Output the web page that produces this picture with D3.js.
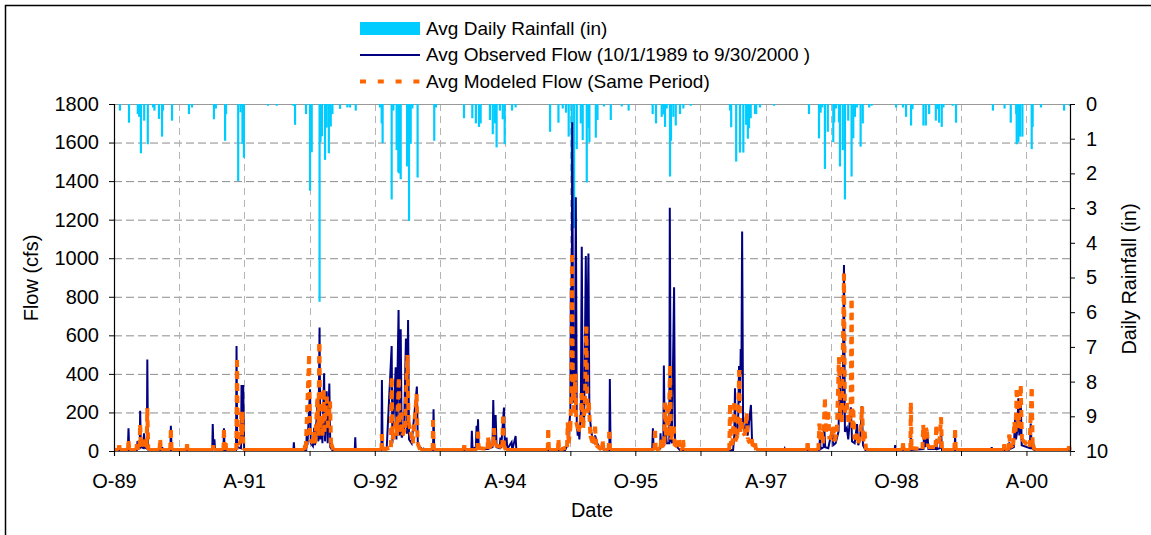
<!DOCTYPE html>
<html>
<head>
<meta charset="utf-8">
<script src="https://cdn.jsdelivr.net/npm/d3@7"></script>
<style>
  html, body { margin: 0; padding: 0; background: #fff; }
  svg { display: block; font-family: "Liberation Sans", Arial, sans-serif; }
</style>
</head>
<body>
<svg id="chart" width="1151" height="535"></svg>
<script>
// Daily rainfall (in) on wet days
const rainfall = [
  ["1989-10-26",0.19],["1989-12-03",0.54],["1990-01-09",0.29],["1990-01-15",0.37],["1990-01-22",1.42],
  ["1990-02-05",0.48],["1990-02-20",1.16],["1990-03-14",0.10],["1990-03-20",0.19],["1990-04-08",0.43],
  ["1990-04-21",0.94],["1990-04-25",0.19],["1990-06-02",0.48],["1990-08-12",0.29],["1990-08-25",0.10],
  ["1990-11-25",0.44],["1990-12-03",0.13],["1991-01-11",1.06],["1991-01-15",0.29],["1991-03-07",2.22],
  ["1991-03-17",0.24],["1991-03-25",1.15],["1991-03-31",1.55],["1991-07-10",0.05],["1991-08-16",0.05],
  ["1991-10-25",0.05],["1991-11-01",0.60],["1991-12-17",0.29],["1992-01-03",2.50],["1992-01-10",1.39],
  ["1992-02-12",5.70],["1992-02-16",1.10],["1992-02-22",0.93],["1992-03-06",1.61],["1992-03-13",0.68],
  ["1992-03-22",1.42],["1992-03-30",0.65],["1992-04-06",0.29],["1992-05-08",0.14],["1992-06-08",0.10],
  ["1992-06-19",0.10],["1992-07-13",0.19],["1992-10-23",0.10],["1992-10-30",0.56],["1992-11-03",1.13],
  ["1992-12-11",2.75],["1992-12-18",0.19],["1993-01-01",1.33],["1993-01-08",1.97],["1993-01-12",2.00],
  ["1993-01-18",2.17],["1993-02-14",1.80],["1993-02-22",3.37],["1993-03-01",1.15],["1993-03-08",0.13],
  ["1993-03-30",2.12],["1993-06-08",1.06],["1993-06-15",0.10],["1993-10-11",0.41],["1993-11-15",0.41],
  ["1993-11-30",0.56],["1993-12-13",0.66],["1993-12-20",0.56],["1994-01-28",0.46],["1994-02-09",0.87],
  ["1994-02-18",0.56],["1994-02-25",1.25],["1994-03-11",0.19],["1994-03-23",0.44],["1994-03-31",1.16],
  ["1994-05-01",0.19],["1994-05-16",0.10],["1994-10-08",0.80],["1994-11-12",0.54],["1994-11-30",0.13],
  ["1994-12-14",0.25],["1994-12-25",0.94],["1995-01-07",2.09],["1995-01-17",3.58],["1995-01-28",1.30],
  ["1995-02-14",0.56],["1995-02-22",1.04],["1995-03-11",2.26],["1995-03-18",0.70],["1995-03-22",1.10],
  ["1995-04-18",0.97],["1995-04-25",0.46],["1995-05-22",0.07],["1995-06-20",0.46],["1995-08-05",0.07],
  ["1995-09-03",0.19],["1995-12-13",0.29],["1995-12-27",0.56],["1996-01-20",0.37],["1996-01-27",0.30],
  ["1996-02-03",0.66],["1996-02-10",0.13],["1996-02-24",2.09],["1996-02-28",1.06],["1996-03-09",0.37],
  ["1996-03-19",0.62],["1996-04-06",0.29],["1996-04-20",0.13],["1996-05-21",0.05],["1996-11-02",0.19],
  ["1996-11-07",0.67],["1996-11-28",1.66],["1996-12-14",1.40],["1996-12-28",1.40],["1997-01-09",0.60],
  ["1997-01-16",1.00],["1997-01-21",0.70],["1997-01-28",0.41],["1997-02-15",0.29],["1997-02-20",0.29],
  ["1997-03-08",0.10],["1997-05-06",0.05],["1997-09-30",0.29],["1997-11-11",0.99],["1997-11-18",0.25],
  ["1997-11-25",0.10],["1997-12-06",1.87],["1997-12-18",0.80],["1998-01-10",1.10],["1998-01-14",0.53],
  ["1998-01-22",0.13],["1998-02-03",0.53],["1998-02-07",1.80],["1998-02-19",1.33],["1998-02-28",2.75],
  ["1998-03-14",0.48],["1998-03-28",2.09],["1998-04-04",0.99],["1998-04-11",0.37],["1998-04-19",0.10],
  ["1998-05-05",1.23],["1998-05-14",0.56],["1998-06-10",0.10],["1998-06-20",0.05],["1998-10-01",0.10],
  ["1998-10-30",0.10],["1998-11-12",0.37],["1998-12-03",0.62],["1998-12-09",0.15],["1999-01-24",0.62],
  ["1999-02-03",0.62],["1999-02-17",0.29],["1999-03-17",0.48],["1999-03-24",0.15],["1999-03-31",0.54],
  ["1999-04-11",0.66],["1999-04-18",0.10],["1999-05-27",0.05],["1999-06-10",0.54],["1999-11-12",0.19],
  ["1999-12-31",0.13],["2000-01-26",0.54],["2000-02-18",0.29],["2000-02-20",1.16],["2000-02-27",1.10],
  ["2000-03-05",0.94],["2000-03-15",0.94],["2000-04-23",1.30],["2000-04-27",0.66],["2000-06-01",0.10],
  ["2000-09-06",0.19],["2000-09-30",0.05]
];

// Observed flow (cfs)
const observedFlow = [
  ["1989-10-01",5],["1989-11-28",5],["1989-12-01",118],["1989-12-04",5],
  ["1990-01-05",5],["1990-01-08",52],["1990-01-11",12],["1990-01-17",14],["1990-01-19",209],["1990-01-22",20],
  ["1990-02-02",15],["1990-02-04",92],["1990-02-07",18],["1990-02-16",14],["1990-02-18",475],["1990-02-21",8],
  ["1990-04-20",5],["1990-04-22",20],["1990-04-24",5],["1990-05-26",5],["1990-05-28",131],["1990-05-31",5],
  ["1990-11-18",5],["1990-11-20",140],["1990-11-23",10],["1990-11-27",60],["1990-11-30",5],
  ["1991-01-04",5],["1991-01-06",118],["1991-01-09",5],["1991-02-26",5],["1991-02-28",545],["1991-03-03",20],
  ["1991-03-19",15],["1991-03-21",342],["1991-03-24",60],["1991-03-28",342],["1991-04-01",8],
  ["1991-10-25",5],["1991-10-27",45],["1991-10-29",5],["1991-12-18",5],["1991-12-20",90],["1991-12-23",30],
  ["1992-01-03",320],["1992-01-06",40],["1992-01-15",25],["1992-01-20",120],["1992-01-24",30],["1992-02-04",270],
  ["1992-02-07",50],["1992-02-12",640],["1992-02-15",60],["1992-02-20",150],["1992-02-24",40],["1992-03-02",403],
  ["1992-03-06",50],["1992-03-13",310],["1992-03-17",40],["1992-03-24",350],["1992-03-28",20],["1992-04-05",5],
  ["1992-07-09",5],["1992-07-11",71],["1992-07-13",5],
  ["1992-10-29",5],["1992-10-31",368],["1992-11-03",15],["1992-11-20",10],["1992-12-11",545],["1992-12-14",40],
  ["1992-12-28",434],["1992-12-31",60],["1993-01-09",731],["1993-01-13",80],["1993-01-18",631],["1993-01-22",70],
  ["1993-02-01",100],["1993-02-09",584],["1993-02-13",90],["1993-02-18",679],["1993-02-22",60],["1993-03-05",40],
  ["1993-03-27",334],["1993-03-31",30],["1993-04-20",8],["1993-04-24",12],["1993-04-27",5],
  ["1993-06-03",5],["1993-06-05",216],["1993-06-08",5],
  ["1993-11-11",5],["1993-11-13",105],["1993-11-16",10],["1993-11-30",20],["1993-12-03",131],["1993-12-06",30],
  ["1993-12-09",164],["1993-12-12",10],["1994-01-20",10],["1994-01-25",60],["1994-01-28",15],["1994-02-08",20],
  ["1994-02-11",264],["1994-02-15",30],["1994-02-21",186],["1994-02-25",20],["1994-03-10",15],["1994-03-13",70],
  ["1994-03-16",15],["1994-03-28",225],["1994-04-01",20],["1994-04-08",70],["1994-04-11",10],["1994-04-29",45],
  ["1994-05-02",5],["1994-05-16",78],["1994-05-19",5],
  ["1994-12-10",5],["1994-12-20",30],["1994-12-28",150],["1995-01-01",200],["1995-01-03",847],["1995-01-06",300],
  ["1995-01-09",1705],["1995-01-13",400],["1995-01-17",250],["1995-01-21",600],["1995-01-24",1316],["1995-01-28",150],
  ["1995-02-01",80],["1995-02-04",120],["1995-02-08",60],["1995-02-14",200],["1995-02-18",1060],["1995-02-22",200],
  ["1995-02-28",150],["1995-03-07",1011],["1995-03-11",300],["1995-03-18",1025],["1995-03-22",200],["1995-03-30",100],
  ["1995-04-08",40],["1995-04-15",80],["1995-04-24",40],["1995-05-05",15],["1995-05-20",8],
  ["1995-06-14",5],["1995-06-16",373],["1995-06-19",5],
  ["1995-12-11",5],["1995-12-14",118],["1995-12-17",10],["1996-01-13",10],["1996-01-15",92],["1996-01-18",20],
  ["1996-01-27",30],["1996-01-29",443],["1996-02-02",60],["1996-02-07",100],["1996-02-10",40],["1996-02-21",40],
  ["1996-02-23",1262],["1996-02-27",60],["1996-03-03",40],["1996-03-12",849],["1996-03-16",30],["1996-03-25",20],
  ["1996-04-05",5],
  ["1996-11-15",5],["1996-11-20",80],["1996-11-23",325],["1996-11-26",60],["1996-12-03",100],["1996-12-07",200],
  ["1996-12-10",441],["1996-12-14",250],["1996-12-17",529],["1996-12-20",400],["1996-12-23",1138],["1996-12-27",150],
  ["1997-01-03",100],["1997-01-08",120],["1997-01-11",178],["1997-01-15",80],["1997-01-21",150],["1997-01-29",239],
  ["1997-02-03",40],["1997-02-15",30],["1997-02-25",5],
  ["1997-06-18",5],["1997-06-20",12],["1997-06-22",5],["1997-09-22",5],["1997-09-24",40],["1997-09-27",5],
  ["1997-11-10",5],["1997-11-15",60],["1997-11-18",10],["1997-11-30",20],["1997-12-03",135],["1997-12-07",20],
  ["1997-12-20",15],["1998-01-06",118],["1998-01-10",30],["1998-01-20",40],["1998-02-01",100],["1998-02-07",434],
  ["1998-02-12",150],["1998-02-18",200],["1998-02-24",965],["1998-02-28",100],["1998-03-08",120],["1998-03-14",60],
  ["1998-03-25",227],["1998-03-30",50],["1998-04-10",40],["1998-04-20",140],["1998-04-25",30],["1998-05-03",60],
  ["1998-05-10",232],["1998-05-15",30],["1998-05-25",5],
  ["1998-09-25",5],["1998-09-27",30],["1998-09-29",5],["1998-11-30",5],["1998-12-02",78],["1998-12-05",5],
  ["1999-01-24",10],["1999-01-27",100],["1999-01-31",20],["1999-02-10",85],["1999-02-14",10],["1999-03-17",10],
  ["1999-03-19",60],["1999-03-22",10],["1999-04-05",15],["1999-04-08",105],["1999-04-12",5],
  ["1999-06-04",5],["1999-06-06",75],["1999-06-09",5],["1999-11-05",5],["1999-11-07",20],["1999-11-09",5],
  ["2000-01-17",5],["2000-01-20",45],["2000-01-23",10],["2000-02-08",20],["2000-02-13",164],["2000-02-17",60],
  ["2000-02-22",100],["2000-02-27",273],["2000-03-02",80],["2000-03-08",273],["2000-03-12",30],["2000-04-15",15],
  ["2000-04-19",143],["2000-04-23",15],["2000-05-05",5],["2000-09-30",5]
];

// Modeled flow (cfs)
const modeledFlow = [
  ["1989-10-01",5],["1989-10-20",5],["1989-10-23",30],["1989-10-26",5],["1989-11-29",5],["1989-12-01",52],
  ["1989-12-04",5],["1990-01-03",5],["1990-01-05",35],["1990-01-08",15],["1990-01-16",20],["1990-01-19",135],
  ["1990-01-23",25],["1990-02-04",60],["1990-02-08",20],["1990-02-15",30],["1990-02-18",221],["1990-02-22",5],
  ["1990-04-10",5],["1990-04-13",57],["1990-04-16",5],["1990-05-25",5],["1990-05-28",109],["1990-05-31",5],
  ["1990-08-02",5],["1990-08-04",35],["1990-08-06",5],
  ["1990-11-20",5],["1990-11-22",30],["1990-11-24",5],["1991-01-04",5],["1991-01-06",109],["1991-01-09",20],
  ["1991-01-13",40],["1991-01-16",5],["1991-02-27",5],["1991-03-02",472],["1991-03-06",40],["1991-03-18",40],
  ["1991-03-21",204],["1991-03-23",80],["1991-03-25",200],["1991-03-29",5],
  ["1991-12-11",5],["1991-12-13",30],["1991-12-16",15],["1991-12-30",493],["1992-01-03",60],["1992-01-15",40],
  ["1992-01-20",100],["1992-01-24",40],["1992-02-03",273],["1992-02-07",80],["1992-02-11",555],["1992-02-15",120],
  ["1992-02-20",180],["1992-02-24",80],["1992-02-28",316],["1992-03-03",100],["1992-03-08",200],["1992-03-13",282],
  ["1992-03-18",120],["1992-03-27",256],["1992-03-31",40],["1992-04-10",5],
  ["1992-10-29",5],["1992-10-31",88],["1992-11-03",5],["1992-12-08",20],["1992-12-11",377],["1992-12-15",60],
  ["1992-12-28",150],["1993-01-02",80],["1993-01-10",372],["1993-01-14",100],["1993-01-20",200],["1993-01-26",80],
  ["1993-02-05",120],["1993-02-15",498],["1993-02-20",150],["1993-03-01",100],["1993-03-10",40],["1993-03-26",294],
  ["1993-03-30",40],["1993-04-10",5],["1993-06-01",5],["1993-06-03",161],["1993-06-06",5],
  ["1993-10-10",5],["1993-10-12",30],["1993-10-14",5],["1993-12-06",5],["1993-12-09",100],["1993-12-12",15],
  ["1994-01-18",10],["1994-01-20",70],["1994-01-23",15],["1994-02-11",40],["1994-02-14",118],["1994-02-18",30],
  ["1994-03-21",20],["1994-03-24",178],["1994-03-28",30],["1994-04-05",5],
  ["1994-09-28",5],["1994-09-30",109],["1994-10-03",5],["1994-11-10",5],["1994-11-12",57],["1994-11-15",5],
  ["1994-12-18",20],["1994-12-21",147],["1994-12-25",40],["1995-01-01",120],["1995-01-05",300],["1995-01-08",1016],
  ["1995-01-12",300],["1995-01-17",200],["1995-01-22",400],["1995-01-26",150],["1995-02-04",100],["1995-02-14",150],
  ["1995-02-18",300],["1995-02-24",120],["1995-03-03",250],["1995-03-09",645],["1995-03-14",200],["1995-03-20",250],
  ["1995-03-26",80],["1995-04-05",40],["1995-04-15",126],["1995-04-19",30],["1995-05-14",5],["1995-05-17",50],
  ["1995-05-20",5],["1995-06-11",5],["1995-06-14",99],["1995-06-17",5],
  ["1995-12-20",5],["1995-12-23",105],["1995-12-26",5],["1996-01-15",15],["1996-01-18",60],["1996-01-22",20],
  ["1996-01-31",40],["1996-02-03",250],["1996-02-07",80],["1996-02-14",230],["1996-02-18",80],["1996-02-24",441],
  ["1996-02-28",60],["1996-03-11",126],["1996-03-15",20],["1996-04-02",57],["1996-04-05",5],["1996-04-16",5],
  ["1996-04-19",57],["1996-04-22",5],
  ["1996-10-30",5],["1996-11-02",239],["1996-11-06",40],["1996-11-12",30],["1996-11-20",247],["1996-11-24",50],
  ["1996-12-03",80],["1996-12-11",420],["1996-12-15",100],["1996-12-20",150],["1996-12-28",95],["1997-01-04",80],
  ["1997-01-11",195],["1997-01-16",60],["1997-01-25",40],["1997-02-01",62],["1997-02-06",20],["1997-02-15",40],
  ["1997-02-20",5],
  ["1997-09-22",5],["1997-09-24",40],["1997-09-27",5],
  ["1997-11-08",5],["1997-11-13",142],["1997-11-17",60],["1997-11-22",100],["1997-11-28",40],["1997-12-06",268],
  ["1997-12-10",100],["1997-12-20",202],["1997-12-25",60],["1998-01-03",80],["1998-01-10",126],["1998-01-15",50],
  ["1998-01-25",100],["1998-02-03",486],["1998-02-08",200],["1998-02-15",150],["1998-02-24",920],["1998-02-28",200],
  ["1998-03-08",250],["1998-03-15",150],["1998-03-24",180],["1998-03-28",780],["1998-04-01",120],["1998-04-04",210],
  ["1998-04-10",60],["1998-04-20",90],["1998-04-25",40],["1998-05-05",100],["1998-05-11",230],["1998-05-16",50],
  ["1998-05-22",100],["1998-05-28",5],
  ["1998-10-28",5],["1998-10-30",40],["1998-11-02",5],["1998-11-30",5],["1998-12-02",250],["1998-12-05",15],
  ["1999-01-20",10],["1999-01-23",135],["1999-01-27",60],["1999-02-03",120],["1999-02-08",100],["1999-02-12",20],
  ["1999-03-16",20],["1999-03-19",126],["1999-03-23",60],["1999-04-01",40],["1999-04-08",175],["1999-04-12",5],
  ["1999-06-03",5],["1999-06-06",109],["1999-06-09",5],
  ["1999-12-28",5],["1999-12-30",35],["2000-01-02",5],["2000-01-17",5],["2000-01-20",85],["2000-01-24",20],
  ["2000-02-05",30],["2000-02-10",150],["2000-02-15",100],["2000-02-20",316],["2000-02-25",120],["2000-03-01",160],
  ["2000-03-08",337],["2000-03-13",60],["2000-04-14",20],["2000-04-18",160],["2000-04-23",320],["2000-04-27",40],
  ["2000-05-05",5],["2000-09-24",5],["2000-09-27",25],["2000-09-30",5]
];

// Axis ticks
const dateRange = ["1989-10-01", "2000-10-01"];
const dateTickLabels = ["O-89","","A-91","","O-92","","A-94","","O-95","","A-97","","O-98","","A-00"];
const flowTicks = [0,200,400,600,800,1000,1200,1400,1600,1800];
const rainTicks = [0,1,2,3,4,5,6,7,8,9,10];

const legendLabels = [
  "Avg Daily Rainfall (in)",
  "Avg Observed Flow (10/1/1989 to 9/30/2000 )",
  "Avg Modeled Flow (Same Period)"
];

const COLORS = { rain: "#00CCFF", observed: "#000080", modeled: "#FF6600" };

const parse = d3.timeParse("%Y-%m-%d");
const svg = d3.select("#chart");

const plot = { left: 114, right: 1070, top: 104, bottom: 451 };

const x = d3.scaleTime()
  .domain(dateRange.map(parse))
  .range([plot.left, plot.right]);
const yFlow = d3.scaleLinear().domain([0, 1800]).range([plot.bottom, plot.top]);
const yRain = d3.scaleLinear().domain([0, 10]).range([plot.top, plot.bottom]);

// outer frame
svg.append("rect")
  .attr("x", 5.5).attr("y", 5.5).attr("width", 1160).attr("height", 560)
  .attr("fill", "none").attr("stroke", "#000").attr("stroke-width", 1.5);

// date ticks every 9 months
const dateTicks = d3.timeMonth.range(parse(dateRange[0]), parse(dateRange[1]), 9);

// gridlines
const grid = svg.append("g");
grid.selectAll("line.h").data(flowTicks.filter(v => v > 0 && v < 1800)).join("line")
  .attr("x1", plot.left).attr("x2", plot.right)
  .attr("y1", d => yFlow(d) + 0.5).attr("y2", d => yFlow(d) + 0.5)
  .attr("stroke", "#8c8c8c").attr("stroke-width", 1).attr("stroke-dasharray", "8,4");
grid.selectAll("line.v").data(dateTicks.slice(1)).join("line")
  .attr("x1", d => Math.round(x(d)) + 0.5).attr("x2", d => Math.round(x(d)) + 0.5)
  .attr("y1", plot.top).attr("y2", plot.bottom)
  .attr("stroke", "#b4b4b4").attr("stroke-width", 1).attr("stroke-dasharray", "7,5");
svg.append("line")
  .attr("x1", plot.left).attr("x2", plot.right)
  .attr("y1", plot.top + 0.5).attr("y2", plot.top + 0.5)
  .attr("stroke", "#999").attr("stroke-width", 1.2);

// rainfall bars hanging from the top
svg.append("g").selectAll("rect").data(rainfall).join("rect")
  .attr("x", d => x(parse(d[0])) - 1.1)
  .attr("y", plot.top)
  .attr("width", 2.2)
  .attr("height", d => yRain(d[1]) - plot.top)
  .attr("fill", COLORS.rain);

// observed flow
const obs = observedFlow.map(d => ({ date: parse(d[0]), value: d[1] }));
const line = d3.line().x(d => x(d.date)).y(d => yFlow(d.value));
svg.append("path").datum(obs)
  .attr("d", line)
  .attr("fill", "none").attr("stroke", COLORS.observed)
  .attr("stroke-width", 2).attr("stroke-linejoin", "miter");

// modeled flow: each daily segment restarts its dash, flat base stretches read as solid
const mod = modeledFlow.map(d => ({ date: parse(d[0]), value: d[1] }));
const baseFlow = d3.min(mod, d => d.value);
const segs = d3.pairs(mod);
svg.append("g").selectAll("line").data(segs).join("line")
  .attr("x1", d => x(d[0].date)).attr("y1", d => yFlow(d[0].value))
  .attr("x2", d => x(d[1].date)).attr("y2", d => yFlow(d[1].value))
  .attr("stroke", COLORS.modeled).attr("stroke-width", 4)
  .attr("stroke-dasharray", d => (d[0].value === baseFlow && d[1].value === baseFlow) ? null : "7,5");

// axes
const fontSize = 20;
const xAxis = d3.axisBottom(x).tickValues(dateTicks)
  .tickFormat((d, i) => dateTickLabels[i]).tickSize(5).tickPadding(18);
const gx = svg.append("g").attr("transform", `translate(0,${plot.bottom})`).call(xAxis);

const gl = svg.append("g").attr("transform", `translate(${plot.left},0)`)
  .call(d3.axisLeft(yFlow).tickValues(flowTicks).tickFormat(d3.format("d")).tickSize(5).tickPadding(10));

const gr = svg.append("g").attr("transform", `translate(${plot.right},0)`)
  .call(d3.axisRight(yRain).tickValues(rainTicks).tickFormat(d3.format("d")).tickSize(5).tickPadding(11));

[gx, gl, gr].forEach(g => {
  g.select(".domain").attr("stroke", "#000").attr("stroke-width", 1.2);
  g.selectAll(".tick line").attr("stroke", "#000");
  g.selectAll("text").attr("font-size", fontSize).attr("fill", "#000")
    .attr("font-family", "Liberation Sans, Arial, sans-serif");
});
gx.select(".domain").attr("stroke", "#555");

// axis titles
svg.append("text").attr("transform", "translate(38,278) rotate(-90)")
  .attr("text-anchor", "middle").attr("font-size", fontSize).text("Flow (cfs)");
svg.append("text").attr("transform", "translate(1136,279) rotate(-90)")
  .attr("text-anchor", "middle").attr("font-size", fontSize).text("Daily Rainfall (in)");
svg.append("text").attr("x", 592).attr("y", 517)
  .attr("text-anchor", "middle").attr("font-size", fontSize).text("Date");

// legend
const legend = svg.append("g").attr("font-size", 19);
legend.append("rect").attr("x", 360).attr("y", 22).attr("width", 60).attr("height", 13)
  .attr("fill", COLORS.rain);
legend.append("line").attr("x1", 360).attr("x2", 420).attr("y1", 55).attr("y2", 55)
  .attr("stroke", COLORS.observed).attr("stroke-width", 2);
legend.append("line").attr("x1", 360).attr("x2", 420).attr("y1", 81.5).attr("y2", 81.5)
  .attr("stroke", COLORS.modeled).attr("stroke-width", 4).attr("stroke-dasharray", "6,11.8");
legend.selectAll("text").data(legendLabels).join("text")
  .attr("x", 426).attr("y", (d, i) => 34.5 + i * 26.5)
  .text(d => d);
</script>
</body>
</html>
